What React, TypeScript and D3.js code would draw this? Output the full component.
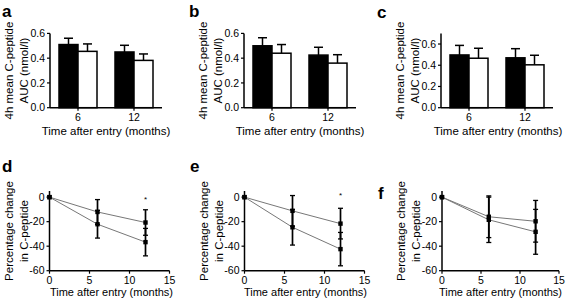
import React from "react";
import * as d3 from "d3";

// ---- Data ----
const months = ["6", "12"];
const barTicksA = [0, 0.2, 0.4, 0.6];
const barTicksC = [0, 0.2, 0.4, 0.6];

const aBlack = [0.51, 0.45];
const aBlackSem = [0.051, 0.054];
const aWhite = [0.455, 0.382];
const aWhiteSem = [0.06, 0.052];

const bBlack = [0.5, 0.425];
const bBlackSem = [0.065, 0.063];
const bWhite = [0.44, 0.36];
const bWhiteSem = [0.07, 0.068];

const cBlack = [0.497, 0.47];
const cBlackSem = [0.09, 0.086];
const cWhite = [0.466, 0.404];
const cWhiteSem = [0.094, 0.09];

const timePoints = [0, 6, 12];
const xTicks = [0, 5, 10, 15];
const yTicks = [0, -20, -40, -60];

const dUpper = [0, -12.1, -20.7];
const dUpperSem = [0, 10.1, 10.4];
const dLower = [0, -22.1, -36.7];
const dLowerSem = [0, 11.3, 11.2];

const eUpper = [0, -11.2, -21.6];
const eUpperSem = [0, 12.5, 12.5];
const eLower = [0, -24.6, -42.4];
const eLowerSem = [0, 14.5, 13.6];

const fUpper = [0, -16, -19.7];
const fUpperSem = [0, 17, 17];
const fLower = [0, -18.5, -28.3];
const fLowerSem = [0, 18.5, 18.3];

const FONT = "'Liberation Sans', Arial, Helvetica, sans-serif";

function BarPanel({ x0, label, labelX, labelY, ymax, ticks, black, blackSem, white, whiteSem, titleShift }: any) {
  const w = 112;
  const yBottom = 107.7;
  const yTop = 33.4;
  const y = d3.scaleLinear().domain([0, ymax]).range([yBottom, yTop]);
  const xb = d3.scaleBand().domain(months).range([x0, x0 + w]);
  const bw = 19;
  const cap = 9;
  const fmt = d3.format(".1f");
  const series = [
    { vals: black, sem: blackSem, fill: "#000", off: -bw },
    { vals: white, sem: whiteSem, fill: "#fff", off: 0 },
  ];
  return (
    <g>
      <text x={labelX} y={labelY} fontSize={17} fontWeight="bold" fontFamily={FONT}>{label}</text>
      {series.map((s, si) =>
        months.map((m, i) => {
          const cx = (xb(m) as number) + xb.bandwidth() / 2;
          const left = cx + s.off;
          const top = y(s.vals[i]);
          const et = y(s.vals[i] + s.sem[i]);
          return (
            <g key={si + "-" + i}>
              <line x1={left + bw / 2} x2={left + bw / 2} y1={top} y2={et} stroke="#000" strokeWidth={1.5} />
              <line x1={left + bw / 2 - cap / 2} x2={left + bw / 2 + cap / 2} y1={et} y2={et} stroke="#000" strokeWidth={1.5} />
              <rect x={left} y={top} width={bw} height={yBottom - top} fill={s.fill} stroke="#000" strokeWidth={1.5} />
            </g>
          );
        })
      )}
      <line x1={x0} x2={x0} y1={yTop} y2={yBottom} stroke="#000" strokeWidth={1.5} />
      <line x1={x0} x2={x0 + w} y1={yBottom} y2={yBottom} stroke="#000" strokeWidth={1.5} />
      {ticks.map((t: number) => (
        <g key={t}>
          <line x1={x0 - 3} x2={x0} y1={y(t)} y2={y(t)} stroke="#000" strokeWidth={1.2} />
          <text x={x0 - 5} y={y(t) + 3.7} fontSize={10.5} textAnchor="end" fontFamily={FONT}>{fmt(t)}</text>
        </g>
      ))}
      {months.map((m) => {
        const cx = (xb(m) as number) + xb.bandwidth() / 2;
        return (
          <g key={m}>
            <line x1={cx} x2={cx} y1={yBottom} y2={yBottom + 3} stroke="#000" strokeWidth={1.2} />
            <text x={cx} y={120.5} fontSize={10.5} textAnchor="middle" fontFamily={FONT}>{m}</text>
          </g>
        );
      })}
      <text x={x0 + w / 2 + titleShift} y={135} fontSize={11.5} textAnchor="middle" fontFamily={FONT}>Time after entry (months)</text>
      <text transform={`translate(${x0 - 37},${(yTop + yBottom) / 2}) rotate(-90)`} fontSize={11.5} textAnchor="middle" fontFamily={FONT}>4h mean C-peptide</text>
      <text transform={`translate(${x0 - 22},${(yTop + yBottom) / 2}) rotate(-90)`} fontSize={11.5} textAnchor="middle" fontFamily={FONT}>AUC (nmol/l)</text>
    </g>
  );
}

function LinePanel({ x0, w, label, labelX, labelY, upper, upperSem, lower, lowerSem, star, starY, titleShift }: any) {
  const x = d3.scaleLinear().domain([0, 15]).range([x0, x0 + w]);
  const y = d3.scaleLinear().domain([-60, 5]).range([270.7, 191]);
  const line = d3.line<number>().x((_, i) => x(timePoints[i])).y((v) => y(v));
  const cap = 5;
  const all = [
    { vals: upper, sem: upperSem },
    { vals: lower, sem: lowerSem },
  ];
  return (
    <g>
      <text x={labelX} y={labelY} fontSize={17} fontWeight="bold" fontFamily={FONT}>{label}</text>
      {all.map((s, si) => (
        <path key={"l" + si} d={line(s.vals) || ""} fill="none" stroke="#777" strokeWidth={1} />
      ))}
      {all.map((s, si) =>
        timePoints.map((t, i) => {
          if (s.sem[i] === 0) return null;
          const cx = x(t);
          const y1 = y(s.vals[i] + s.sem[i]);
          const y2 = y(s.vals[i] - s.sem[i]);
          return (
            <g key={"e" + si + i}>
              <line x1={cx} x2={cx} y1={y1} y2={y2} stroke="#000" strokeWidth={1.7} />
              <line x1={cx - cap / 2} x2={cx + cap / 2} y1={y1} y2={y1} stroke="#000" strokeWidth={1.3} />
              <line x1={cx - cap / 2} x2={cx + cap / 2} y1={y2} y2={y2} stroke="#000" strokeWidth={1.3} />
            </g>
          );
        })
      )}
      {all.map((s, si) =>
        timePoints.map((t, i) => (
          <rect key={"m" + si + i} x={x(t) - 2.2} y={y(s.vals[i]) - 2.2} width={4.4} height={4.4} fill="#000" />
        ))
      )}
      {star && (
        <text x={x(12)} y={y(starY) + 4} fontSize={8} textAnchor="middle" fontFamily={FONT}>*</text>
      )}
      <line x1={x0} x2={x0} y1={191} y2={270.7} stroke="#000" strokeWidth={1.5} />
      <line x1={x0} x2={x0 + w} y1={270.7} y2={270.7} stroke="#000" strokeWidth={1.5} />
      {yTicks.map((t) => (
        <g key={t}>
          <line x1={x0 - 3} x2={x0} y1={y(t)} y2={y(t)} stroke="#000" strokeWidth={1.2} />
          <text x={x0 - 5} y={y(t) + 3.7} fontSize={10.5} textAnchor="end" fontFamily={FONT}>{t}</text>
        </g>
      ))}
      {xTicks.map((t) => (
        <g key={t}>
          <line x1={x(t)} x2={x(t)} y1={270.7} y2={273.7} stroke="#000" strokeWidth={1.2} />
          <text x={x(t)} y={284} fontSize={10.5} textAnchor="middle" fontFamily={FONT}>{t}</text>
        </g>
      ))}
      <text x={x0 + w / 2 + titleShift} y={296} fontSize={11} textAnchor="middle" fontFamily={FONT}>Time after entry (months)</text>
      <text transform={`translate(${x0 - 37},231) rotate(-90)`} fontSize={11.5} textAnchor="middle" fontFamily={FONT}>Percentage change</text>
      <text transform={`translate(${x0 - 22},231) rotate(-90)`} fontSize={11.5} textAnchor="middle" fontFamily={FONT}>in C-peptide</text>
    </g>
  );
}

export default function App() {
  return (
    <svg width={566} height={300} style={{ position: "absolute", left: 0, top: 0, background: "#fff" }}>
      <rect width={566} height={300} fill="#fff" />
      <BarPanel x0={50} label="a" labelX={2} labelY={17} ymax={0.6} ticks={barTicksA} black={aBlack} blackSem={aBlackSem} white={aWhite} whiteSem={aWhiteSem} titleShift={0} />
      <BarPanel x0={244} label="b" labelX={189} labelY={17} ymax={0.6} ticks={barTicksA} black={bBlack} blackSem={bBlackSem} white={bWhite} whiteSem={bWhiteSem} titleShift={0} />
      <BarPanel x0={441} label="c" labelX={377} labelY={18} ymax={0.7} ticks={barTicksC} black={cBlack} blackSem={cBlackSem} white={cWhite} whiteSem={cWhiteSem} titleShift={1} />
      <LinePanel x0={49.5} w={120} label="d" labelX={2} labelY={172} upper={dUpper} upperSem={dUpperSem} lower={dLower} lowerSem={dLowerSem} star={true} starY={-1} titleShift={2} />
      <LinePanel x0={244.5} w={120} label="e" labelX={190} labelY={172} upper={eUpper} upperSem={eUpperSem} lower={eLower} lowerSem={eLowerSem} star={true} starY={2.5} titleShift={1} />
      <LinePanel x0={442} w={117} label="f" labelX={378} labelY={199} upper={fUpper} upperSem={fUpperSem} lower={fLower} lowerSem={fLowerSem} star={false} starY={0} titleShift={0} />
    </svg>
  );
}
